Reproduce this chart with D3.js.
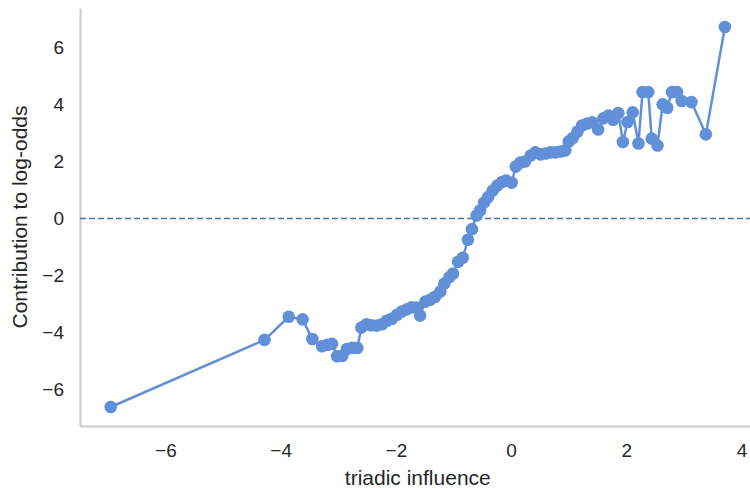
<!DOCTYPE html>
<html>
<head>
<meta charset="utf-8">
<script src="https://cdn.jsdelivr.net/npm/d3@7"></script>
<style>
  html, body { margin: 0; padding: 0; background: #fff; }
  svg { display: block; }
  text { font-family: "Liberation Sans", Arial, sans-serif; fill: #262626; }
</style>
</head>
<body>
<svg id="chart" width="750" height="488"></svg>
<script>
// Binned feature value (x) and its contribution to the log-odds (y)
const influence = [
  -6.95, -4.28, -3.86, -3.62, -3.45, -3.28, -3.19, -3.11, -3.02, -2.93,
  -2.85, -2.76, -2.67, -2.60, -2.51, -2.43, -2.33, -2.24, -2.16, -2.07,
  -1.98, -1.90, -1.81, -1.73, -1.65, -1.58, -1.49, -1.40, -1.32, -1.23,
  -1.16, -1.07, -1.01, -0.92, -0.84, -0.75, -0.68, -0.60, -0.54, -0.47,
  -0.40, -0.32, -0.24, -0.16, -0.09, 0.01, 0.08, 0.16, 0.24, 0.34,
  0.42, 0.51, 0.60, 0.68, 0.77, 0.86, 0.94, 1.00, 1.07, 1.15,
  1.23, 1.32, 1.41, 1.51, 1.60, 1.69, 1.77, 1.86, 1.94, 2.02,
  2.11, 2.21, 2.28, 2.38, 2.44, 2.54, 2.63, 2.71, 2.79, 2.88,
  2.96, 3.13, 3.38, 3.71
];
const contribution = [
  -6.60, -4.25, -3.44, -3.53, -4.22, -4.47, -4.42, -4.39, -4.82, -4.81,
  -4.57, -4.53, -4.53, -3.82, -3.70, -3.74, -3.75, -3.70, -3.58, -3.51,
  -3.37, -3.26, -3.18, -3.11, -3.12, -3.40, -2.91, -2.84, -2.74, -2.56,
  -2.28, -2.05, -1.93, -1.51, -1.37, -0.74, -0.37, 0.11, 0.28, 0.56,
  0.75, 0.98, 1.16, 1.28, 1.33, 1.26, 1.82, 1.96, 2.00, 2.21,
  2.32, 2.25, 2.28, 2.32, 2.32, 2.35, 2.39, 2.70, 2.82, 3.04,
  3.26, 3.33, 3.37, 3.12, 3.51, 3.61, 3.46, 3.70, 2.68, 3.38,
  3.72, 2.63, 4.43, 4.43, 2.80, 2.56, 4.00, 3.88, 4.43, 4.43,
  4.12, 4.08, 2.95, 6.71
];
const xTicks = [-6, -4, -2, 0, 2, 4];
const yTicks = [-6, -4, -2, 0, 2, 4, 6];
const xLabel = "triadic influence";
const yLabel = "Contribution to log-odds";

const points = influence.map((v, i) => ({ x: v, y: contribution[i] }));

const svg = d3.select("#chart");
const plotLeft = 80, plotTop = 8, plotBottom = 426, plotRight = 755.6;

// 5% padding around the data extent on both axes
const pad = (ext) => { const d = (ext[1] - ext[0]) * 0.05; return [ext[0] - d, ext[1] + d]; };
const x = d3.scaleLinear().domain(pad(d3.extent(influence))).range([plotLeft, plotRight]);
const y = d3.scaleLinear().domain(pad(d3.extent(contribution))).range([plotBottom, plotTop]);

const fmt = (d) => (d < 0 ? "\u2212" + Math.abs(d) : String(d));

// Axes (no tick marks, labels only)
const xAxis = svg.append("g").attr("transform", `translate(0,${plotBottom})`)
  .call(d3.axisBottom(x).tickValues(xTicks).tickFormat(fmt).tickSize(0).tickPadding(18));
const yAxis = svg.append("g").attr("transform", `translate(${plotLeft},0)`)
  .call(d3.axisLeft(y).tickValues(yTicks).tickFormat(fmt).tickSize(0).tickPadding(16));
[xAxis, yAxis].forEach(g => {
  g.select(".domain").attr("stroke", "#cccccc").attr("stroke-width", 2);
  g.selectAll("text").style("font-size", "19px").attr("fill", "#262626")
    .style("font-family", "'Liberation Sans', Arial, sans-serif");
});

// Zero reference line
svg.append("line")
  .attr("x1", plotLeft).attr("x2", 750)
  .attr("y1", y(0)).attr("y2", y(0))
  .attr("stroke", "#4c72b0").attr("stroke-width", 1.5)
  .attr("stroke-dasharray", "6,3");

const color = "#6190d8";

svg.append("path")
  .datum(points)
  .attr("fill", "none")
  .attr("stroke", color)
  .attr("stroke-width", 2.5)
  .attr("d", d3.line().x(d => x(d.x)).y(d => y(d.y)));

svg.append("g").selectAll("circle")
  .data(points)
  .join("circle")
  .attr("cx", d => x(d.x))
  .attr("cy", d => y(d.y))
  .attr("r", 6.3)
  .attr("fill", color);

// Axis titles
svg.append("text")
  .attr("x", (plotLeft + plotRight) / 2).attr("y", 485)
  .attr("text-anchor", "middle")
  .style("font-size", "21px")
  .text(xLabel);

svg.append("text")
  .attr("transform", `translate(27,${(plotTop + plotBottom) / 2}) rotate(-90)`)
  .attr("text-anchor", "middle")
  .style("font-size", "21px")
  .text(yLabel);
</script>
</body>
</html>
